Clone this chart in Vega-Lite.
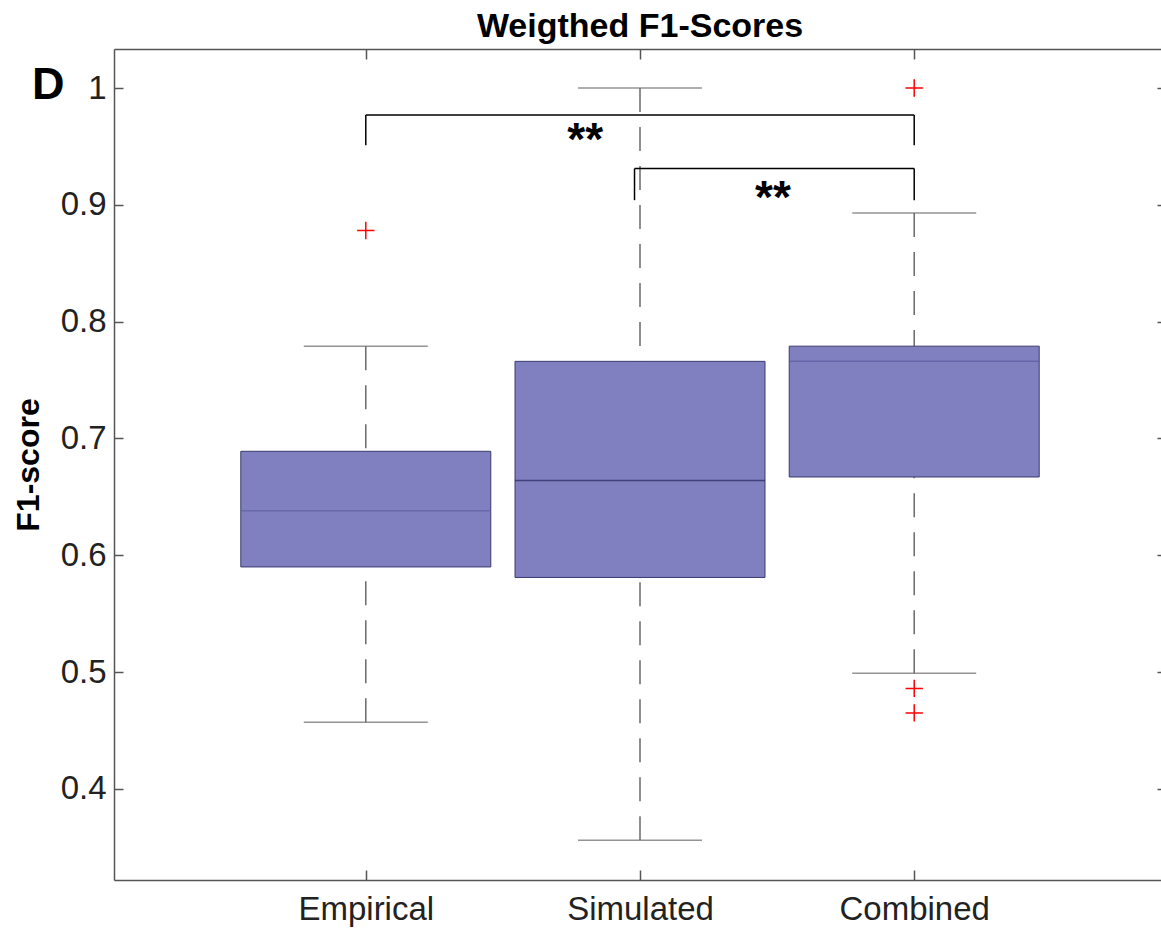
{
  "$schema": "https://vega.github.io/schema/vega-lite/v6.json",
  "width": 1052,
  "height": 831,
  "autosize": {"type": "none"},
  "padding": {"left": 114, "top": 49, "right": 0, "bottom": 51},
  "background": "white",
  "title": {"text": "Weigthed F1-Scores", "font": "Liberation Sans", "fontSize": 34, "fontWeight": "bold", "color": "black", "anchor": "middle", "offset": 4},
  "config": {
    "view": {"stroke": null},
    "axis": {"domainColor": "#555", "domainWidth": 1.5, "tickColor": "#555", "tickWidth": 1.5, "grid": false, "labelFont": "Liberation Sans", "labelFontSize": 33, "labelColor": "#222", "titleFont": "Liberation Sans"}
  },
  "datasets": {
    "boxes": [
      {"pos": 1, "group": "Empirical", "lower": 0.457, "q1": 0.590, "median": 0.638, "q3": 0.689, "upper": 0.779},
      {"pos": 2, "group": "Simulated", "lower": 0.356, "q1": 0.581, "median": 0.664, "q3": 0.766, "upper": 1.0},
      {"pos": 3, "group": "Combined", "lower": 0.499, "q1": 0.667, "median": 0.766, "q3": 0.779, "upper": 0.893}
    ],
    "outliers": [
      {"pos": 1, "value": 0.878},
      {"pos": 3, "value": 1.0},
      {"pos": 3, "value": 0.486},
      {"pos": 3, "value": 0.465}
    ],
    "brackets": [
      {"x": 1, "x2": 3, "y": 0.977, "y2": 0.977},
      {"x": 1, "x2": 1, "y": 0.977, "y2": 0.951},
      {"x": 3, "x2": 3, "y": 0.977, "y2": 0.951},
      {"x": 1.98, "x2": 3, "y": 0.931, "y2": 0.931},
      {"x": 1.98, "x2": 1.98, "y": 0.931, "y2": 0.904},
      {"x": 3, "x2": 3, "y": 0.931, "y2": 0.904}
    ],
    "stars": [
      {"x": 1.8, "y": 0.943, "label": "**"},
      {"x": 2.485, "y": 0.893, "label": "**"}
    ],
    "panel": [
      {"x": -0.158, "y": 0.9906, "label": "D"}
    ]
  },
  "resolve": {"axis": {"x": "independent", "y": "independent"}},
  "layer": [
    {
      "data": {"name": "boxes"},
      "mark": {"type": "rule", "strokeDash": [24, 15], "color": "#6a6a6a", "strokeWidth": 1.5},
      "encoding": {
        "x": {"field": "pos", "type": "quantitative", "scale": {"domain": [0.1, 3.9], "nice": false, "zero": false},
          "axis": {"orient": "bottom", "values": [1, 2, 3], "title": null, "tickSize": -10, "labelPadding": 23,
            "labelExpr": "datum.value == 1 ? 'Empirical' : datum.value == 2 ? 'Simulated' : 'Combined'"}},
        "y": {"field": "upper", "type": "quantitative", "scale": {"domain": [0.322, 1.0334], "nice": false, "zero": false},
          "axis": {"orient": "left", "values": [0.4, 0.5, 0.6, 0.7, 0.8, 0.9, 1.0], "tickSize": -9, "labelPadding": 17,
            "labelExpr": "datum.value == 1 ? '1' : format(datum.value, '.1f')",
            "title": "F1-score", "titleFontSize": 32, "titleFontWeight": "bold", "titleColor": "black", "titlePadding": 15}},
        "y2": {"field": "q3"}
      }
    },
    {
      "data": {"name": "boxes"},
      "mark": {"type": "rule", "strokeDash": [24, 15], "color": "#6a6a6a", "strokeWidth": 1.5},
      "encoding": {
        "x": {"field": "pos", "type": "quantitative", "axis": null},
        "y": {"field": "lower", "type": "quantitative", "axis": null},
        "y2": {"field": "q1"}
      }
    },
    {
      "data": {"name": "boxes"},
      "mark": {"type": "tick", "orient": "horizontal", "size": 124, "thickness": 1.5, "color": "#666"},
      "encoding": {
        "x": {"field": "pos", "type": "quantitative", "axis": null},
        "y": {"field": "upper", "type": "quantitative", "axis": null}
      }
    },
    {
      "data": {"name": "boxes"},
      "mark": {"type": "tick", "orient": "horizontal", "size": 124, "thickness": 1.5, "color": "#666"},
      "encoding": {
        "x": {"field": "pos", "type": "quantitative", "axis": null},
        "y": {"field": "lower", "type": "quantitative", "axis": null}
      }
    },
    {
      "data": {"name": "boxes"},
      "mark": {"type": "bar", "width": 250, "fill": "#8080c0", "stroke": "#3a3a70", "strokeWidth": 1},
      "encoding": {
        "x": {"field": "pos", "type": "quantitative", "axis": null},
        "y": {"field": "q1", "type": "quantitative", "axis": null},
        "y2": {"field": "q3"}
      }
    },
    {
      "data": {"name": "boxes"},
      "mark": {"type": "tick", "orient": "horizontal", "size": 250, "thickness": 1.5},
      "encoding": {
        "x": {"field": "pos", "type": "quantitative", "axis": null},
        "y": {"field": "median", "type": "quantitative", "axis": null},
        "color": {"field": "group", "type": "nominal", "legend": null,
          "scale": {"domain": ["Empirical", "Simulated", "Combined"], "range": ["#5e5ea4", "#262660", "#5a5aa0"]}}
      }
    },
    {
      "data": {"name": "outliers"},
      "mark": {"type": "point", "shape": "M-1,0L1,0M0,-1L0,1", "size": 300, "filled": false, "stroke": "#ff0000", "strokeWidth": 1.5, "opacity": 1},
      "encoding": {
        "x": {"field": "pos", "type": "quantitative",
          "axis": {"orient": "top", "values": [1, 2, 3], "labels": false, "title": null, "tickSize": -10}},
        "y": {"field": "value", "type": "quantitative",
          "axis": {"orient": "right", "values": [0.4, 0.5, 0.6, 0.7, 0.8, 0.9, 1.0], "labels": false, "title": null, "tickSize": -9}}
      }
    },
    {
      "data": {"name": "brackets"},
      "mark": {"type": "rule", "color": "black", "strokeWidth": 1.5},
      "encoding": {
        "x": {"field": "x", "type": "quantitative", "axis": null},
        "x2": {"field": "x2"},
        "y": {"field": "y", "type": "quantitative", "axis": null},
        "y2": {"field": "y2"}
      }
    },
    {
      "data": {"name": "stars"},
      "mark": {"type": "text", "font": "Liberation Sans", "fontSize": 46, "fontWeight": "bold", "color": "black", "align": "center", "baseline": "alphabetic"},
      "encoding": {
        "x": {"field": "x", "type": "quantitative", "axis": null},
        "y": {"field": "y", "type": "quantitative", "axis": null},
        "text": {"field": "label"}
      }
    },
    {
      "data": {"name": "panel"},
      "mark": {"type": "text", "font": "Liberation Sans", "fontSize": 45, "fontWeight": "bold", "color": "black", "align": "center", "baseline": "alphabetic", "clip": false},
      "encoding": {
        "x": {"field": "x", "type": "quantitative", "axis": null},
        "y": {"field": "y", "type": "quantitative", "axis": null},
        "text": {"field": "label"}
      }
    }
  ]
}
